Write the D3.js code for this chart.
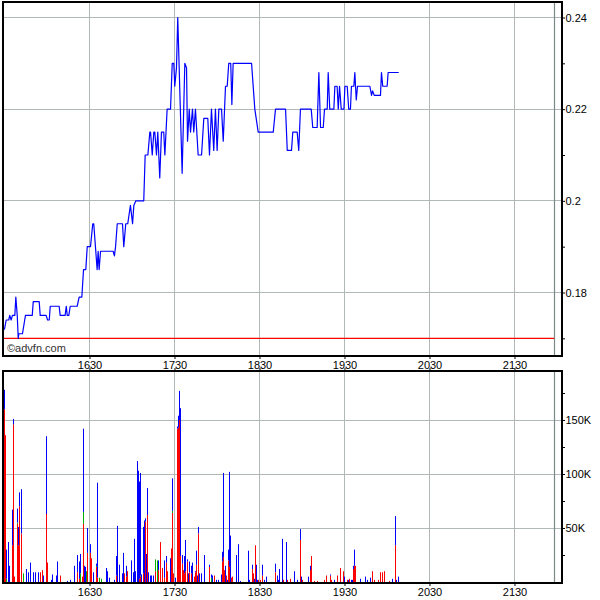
<!DOCTYPE html>
<html><head><meta charset="utf-8">
<script src="https://cdn.jsdelivr.net/npm/d3@7"></script>
<style>body{margin:0;background:#fff}</style>
</head><body>
<svg id="c" width="600" height="600"></svg>
<script>
// Times are minutes after midnight (e.g. 990 = 16:30)
const priceTimes = [
 929.1,930.0,931.2,933.0,933.7,934.7,935.6,937.3,938.0,939.0,
 939.7,940.1,942.7,944.8,949.6,950.3,954.5,955.2,959.4,960.4,
 961.6,962.3,968.6,969.3,972.8,973.6,974.3,975.4,976.4,981.3,
 982.7,984.6,985.8,987.4,988.4,990.7,992.3,993.0,995.4,996.1,
 996.8,997.8,1006.7,1007.6,1008.4,1009.6,1013.3,1014.2,1015.6,1017.0,
 1018.9,1020.4,1021.3,1022.7,1028.3,1029.3,1031.2,1032.6,1033.1,1034.3,
 1035.4,1036.1,1037.3,1038.2,1039.6,1040.8,1042.4,1043.2,1044.8,1047.2,
 1048.4,1049.5,1050.2,1051.4,1052.3,1055.4,1057.3,1058.5,1059.2,1060.4,
 1061.3,1062.7,1063.6,1064.8,1066.7,1069.1,1070.7,1073.5,1074.7,1076.1,
 1077.7,1078.9,1080.1,1081.3,1083.2,1084.4,1086.0,1087.2,1088.3,1089.7,
 1090.5,1091.4,1104.4,1106.7,1109.1,1119.7,1121.3,1128.4,1129.6,1132.6,
 1133.5,1136.6,1137.7,1138.9,1146.5,1147.6,1150.7,1151.9,1153.1,1155.0,
 1155.9,1157.8,1158.5,1159.6,1162.5,1163.2,1164.8,1165.6,1166.5,1167.7,
 1169.6,1170.3,1171.9,1173.0,1174.2,1174.9,1176.6,1177.3,1178.3,1179.2,
 1187.9,1189.1,1189.8,1191.0,1195.4,1196.1,1197.0,1200.1,1200.8,1208.3];
const priceValues = [
 0.172,0.172,0.174,0.174,0.175,0.174,0.175,0.175,0.179,0.175,
 0.170,0.171,0.171,0.175,0.175,0.178,0.178,0.175,0.175,0.174,
 0.174,0.177,0.177,0.175,0.175,0.177,0.175,0.175,0.177,0.177,
 0.179,0.179,0.185,0.185,0.190,0.190,0.195,0.195,0.185,0.189,
 0.185,0.189,0.189,0.188,0.190,0.195,0.195,0.190,0.195,0.195,
 0.199,0.195,0.199,0.200,0.200,0.210,0.210,0.215,0.215,0.210,
 0.215,0.215,0.210,0.215,0.205,0.215,0.215,0.210,0.220,0.220,
 0.230,0.230,0.225,0.229,0.240,0.206,0.230,0.229,0.213,0.220,
 0.215,0.220,0.215,0.220,0.210,0.210,0.218,0.218,0.210,0.220,
 0.211,0.220,0.211,0.220,0.220,0.213,0.225,0.225,0.230,0.230,
 0.221,0.230,0.230,0.220,0.215,0.215,0.220,0.220,0.211,0.211,
 0.215,0.215,0.211,0.220,0.220,0.216,0.216,0.228,0.216,0.216,
 0.220,0.220,0.228,0.220,0.220,0.225,0.225,0.220,0.225,0.220,
 0.220,0.225,0.225,0.220,0.220,0.225,0.225,0.228,0.222,0.225,
 0.225,0.223,0.224,0.223,0.223,0.228,0.225,0.225,0.228,0.228];
const prevClose = 0.17;
const closeMarker = 1318;

// Volume (thousands of shares): sell (red), other (green), buy (blue)
const volTimes = [
 929.8,930.7,931.2,933.1,933.8,935.4,935.9,936.6,937.3,939.0,
 940.1,940.8,942.0,943.6,945.5,947.2,948.6,950.7,952.1,954.2,
 955.7,957.1,957.8,959.9,960.6,963.0,964.1,966.7,967.7,969.8,
 974.2,976.6,979.4,981.5,983.2,983.9,984.8,986.0,986.7,987.4,
 988.1,988.8,990.7,991.4,993.1,995.2,995.9,996.8,998.5,1002.0,
 1002.9,1004.4,1007.6,1009.3,1010.0,1010.9,1013.1,1014.2,1014.9,1016.1,
 1016.8,1019.9,1021.3,1022.0,1022.7,1024.1,1024.8,1025.5,1026.2,1026.9,
 1028.4,1029.1,1029.8,1030.5,1031.2,1031.9,1033.3,1034.0,1035.4,1036.8,
 1037.8,1039.0,1040.4,1041.3,1043.2,1044.1,1045.3,1047.2,1048.1,1048.8,
 1049.3,1050.9,1052.1,1052.8,1053.5,1054.5,1055.4,1056.4,1057.3,1058.0,
 1059.2,1060.1,1060.8,1062.2,1062.9,1063.9,1064.6,1065.8,1066.5,1067.2,
 1067.9,1068.8,1071.4,1074.9,1076.3,1077.1,1078.5,1079.9,1081.3,1083.4,
 1084.1,1084.8,1085.5,1086.2,1086.9,1087.6,1088.4,1089.1,1089.8,1090.5,
 1091.2,1094.0,1095.4,1096.8,1102.5,1103.2,1105.3,1106.0,1106.7,1107.4,
 1108.1,1108.8,1109.5,1110.9,1112.4,1113.8,1115.2,1121.5,1122.9,1123.6,
 1124.4,1126.5,1127.2,1129.3,1130.0,1132.1,1134.9,1137.1,1139.2,1139.9,
 1140.6,1144.4,1145.8,1146.5,1148.6,1150.7,1155.9,1157.5,1160.4,1161.1,
 1163.2,1165.3,1167.4,1169.5,1170.2,1172.4,1173.1,1173.8,1175.2,1175.9,
 1176.6,1177.3,1178.0,1181.5,1185.1,1186.5,1188.6,1190.0,1191.4,1194.2,
 1195.6,1197.1,1198.5,1201.5,1203.6,1205.8,1206.5,1207.9];
const volSell = [
 160,136,0,0,0,0,34,146,5,54,
 34,70,45,0,0,0,0,0,0,0,
 9,11,0,63,18,0,0,0,0,6,
 0,0,0,9,3,0,5,54,0,0,
 0,27,27,22,0,14,4,0,0,0,
 0,0,0,6,0,0,0,0,8,5,
 10,0,0,0,0,0,0,3,5,0,
 8,0,56,0,62,0,0,0,0,10,
 0,11,37,13,4,18,10,0,31,64,
 8,0,142,143,150,24,17,11,8,10,
 19,0,9,8,0,5,9,16,0,45,
 0,0,0,14,0,0,6,0,0,0,
 19,23,11,0,6,0,20,14,0,4,
 5,0,0,0,0,0,12,8,0,34,
 0,0,2,2,6,0,0,9,0,0,
 0,0,2,0,2,3,0,0,39,0,
 2,0,11,24,1,1,2,6,6,2,
 0,6,13,10,0,2,0,3,0,0,
 12,15,15,0,0,0,0,10,2,2,
 9,9,10,1,0,34,0,0];
const volOther = [
 0,0,3,0,0,0,0,0,0,1,
 0,0,0,8,0,0,0,0,0,0,
 0,0,0,0,0,0,0,0,0,0,
 0,0,0,0,0,8,0,11,0,0,
 10,0,0,0,0,1,0,4,3,0,
 0,0,0,0,0,0,0,0,0,0,
 0,0,0,0,0,0,0,0,1,0,
 0,0,0,0,0,0,0,0,0,11,
 20,0,0,0,0,0,0,0,0,2,
 0,0,0,0,0,0,0,0,0,0,
 0,0,0,0,0,0,0,0,0,0,
 0,0,0,0,4,0,0,0,0,0,
 0,0,0,0,0,0,0,0,0,0,
 0,0,0,0,0,0,0,0,0,0,
 0,0,0,0,0,0,0,0,0,0,
 0,0,0,0,0,0,0,0,0,0,
 0,0,0,0,0,0,0,0,0,0,
 0,0,0,0,0,0,0,0,0,0,
 0,0,0,0,0,0,0,0,0,0,
 0,0,0,0,0,0,0,0];
const volBuy = [
 18,0,27,37,15,6,33,5,0,13,
 17,13,41,0,12,9,18,9,9,9,
 0,0,6,72,0,2,7,6,19,0,
 1,2,15,16,16,18,0,77,15,14,
 0,23,8,0,9,2,88,0,0,13,
 10,4,2,18,52,16,8,27,0,10,
 0,20,9,40,10,112,103,90,95,7,
 43,57,3,26,25,9,6,6,6,0,
 0,9,0,0,16,6,0,22,0,30,
 0,4,2,11,27,137,8,0,16,29,
 2,8,10,7,18,0,1,13,6,6,
 8,8,25,2,3,6,0,2,2,7,
 9,78,0,15,0,2,10,88,43,0,
 0,25,35,1,29,2,4,0,3,0,
 16,2,0,0,10,2,5,8,6,2,
 12,40,0,37,0,0,10,2,10,5,
 0,5,4,0,0,0,0,0,1,0,
 2,0,0,0,5,0,2,0,2,2,
 3,15,0,3,5,2,4,0,0,0,
 0,0,0,0,3,27,2,5];

const timeTicks = ["1630","1730","1830","1930","2030","2130"];
const priceTicks = [0.18, 0.2, 0.22, 0.24];
const priceMinor = [0.17, 0.19, 0.21, 0.23];
const volTicks = [50, 100, 150];
const volMinor = [25, 75, 125, 175];

const svg = d3.select("#c");
const FONT = "'Liberation Sans', Arial, sans-serif";
const L = 2, R = 562, pTop = 2, pBot = 356, vTop = 371, vBot = 583;
const toMin = s => (+s.slice(0, 2)) * 60 + (+s.slice(2));

const x = d3.scaleLinear().domain([928.24, 1323.53]).range([L, R]);
const yP = d3.scaleLinear().domain([0.166146, 0.24338]).range([pBot, pTop]);
const yV = d3.scaleLinear().domain([0, 195.4]).range([582, vTop]);

const gridColor = "#b0b8b8";
const tickMins = timeTicks.map(toMin);

// gridlines top panel
const gTop = svg.append("g");
gTop.selectAll("line.v").data(tickMins).join("line")
  .attr("x1", d => Math.floor(x(d)) + 0.5).attr("x2", d => Math.floor(x(d)) + 0.5)
  .attr("y1", pTop).attr("y2", pBot).attr("stroke", gridColor);
gTop.selectAll("line.h").data(priceTicks).join("line")
  .attr("x1", L).attr("x2", R)
  .attr("y1", d => Math.floor(yP(d)) + 0.5).attr("y2", d => Math.floor(yP(d)) + 0.5)
  .attr("stroke", gridColor);

// gridlines bottom panel
const gBot = svg.append("g");
gBot.selectAll("line.v").data(tickMins).join("line")
  .attr("x1", d => Math.floor(x(d)) + 0.5).attr("x2", d => Math.floor(x(d)) + 0.5)
  .attr("y1", vTop).attr("y2", vBot).attr("stroke", gridColor);
gBot.selectAll("line.h").data(volTicks).join("line")
  .attr("x1", L).attr("x2", R)
  .attr("y1", d => Math.floor(yV(d)) + 0.5).attr("y2", d => Math.floor(yV(d)) + 0.5)
  .attr("stroke", gridColor);

// close marker
[[pTop, pBot], [vTop, vBot]].forEach(([a, b]) => {
  svg.append("line").attr("x1", Math.floor(x(closeMarker)) + 0.5).attr("x2", Math.floor(x(closeMarker)) + 0.5)
    .attr("y1", a).attr("y2", b).attr("stroke", "#7c8888").attr("stroke-width", 1.2);
});

// previous close line
svg.append("line").attr("x1", L).attr("x2", x(closeMarker))
  .attr("y1", yP(prevClose)).attr("y2", yP(prevClose))
  .attr("stroke", "#ff0000").attr("stroke-width", 1.2);

// price line
const pts = priceTimes.map((t, i) => [t, priceValues[i]]);
svg.append("path").datum(pts)
  .attr("d", d3.line().x(d => x(d[0])).y(d => yP(d[1])))
  .attr("fill", "none").attr("stroke", "#0000ff").attr("stroke-width", 1.2)
  .attr("stroke-linejoin", "round");

// volume bars
const vol = volTimes.map((t, i) => ({ t, s: volSell[i], o: volOther[i], b: volBuy[i] }));
const gv = svg.append("g");
vol.forEach(d => {
  const bx = Math.floor(x(d.t));
  const segs = [[0, d.s, "#ff0000"], [d.s, d.s + d.o, "#00b000"], [d.s + d.o, d.s + d.o + d.b, "#0000ff"]];
  segs.forEach(([a, b, c]) => {
    if (b > a) gv.append("rect").attr("x", bx).attr("width", 1)
      .attr("y", yV(b)).attr("height", yV(a) - yV(b)).attr("fill", c);
  });
});

// frames
svg.append("rect").attr("x", 3).attr("y", 2).attr("width", 559).attr("height", 354)
  .attr("fill", "none").attr("stroke", "#000").attr("stroke-width", 2);
svg.append("rect").attr("x", 3).attr("y", vTop).attr("width", 559).attr("height", vBot - vTop)
  .attr("fill", "none").attr("stroke", "#000").attr("stroke-width", 2);

function styleAxis(g) {
  g.select(".domain").remove();
  g.selectAll("text").attr("font-family", FONT).attr("font-size", 11).attr("fill", "#000");
  g.selectAll("line").attr("stroke", "#000");
}

// right axes
svg.append("g").attr("transform", `translate(${R},0)`)
  .call(d3.axisRight(yP).tickValues(priceTicks.concat(priceMinor)).tickSize(3).tickPadding(0.5)
    .tickFormat(d => priceTicks.includes(d) ? String(d) : ""))
  .call(styleAxis);
svg.append("g").attr("transform", `translate(${R},0)`)
  .call(d3.axisRight(yV).tickValues(volTicks.concat(volMinor)).tickSize(3).tickPadding(0.5)
    .tickFormat(d => volTicks.includes(d) ? d + "K" : ""))
  .call(styleAxis);

// time axes
svg.append("g").attr("transform", `translate(0,${pBot})`)
  .call(d3.axisBottom(x).tickValues(tickMins).tickSize(3).tickPadding(2)
    .tickFormat((d, i) => timeTicks[i]))
  .call(styleAxis);
svg.append("g").attr("transform", `translate(0,${vTop})`)
  .call(d3.axisTop(x).tickValues(tickMins).tickSize(3).tickFormat(""))
  .call(styleAxis);
svg.append("g").attr("transform", `translate(0,${vBot})`)
  .call(d3.axisBottom(x).tickValues(tickMins).tickSize(3).tickPadding(2)
    .tickFormat((d, i) => timeTicks[i]))
  .call(styleAxis);

// watermark
svg.append("text").attr("x", 7).attr("y", 351.5).text("©advfn.com")
  .attr("font-family", FONT).attr("font-size", 11).attr("fill", "#333");
</script>
</body></html>
